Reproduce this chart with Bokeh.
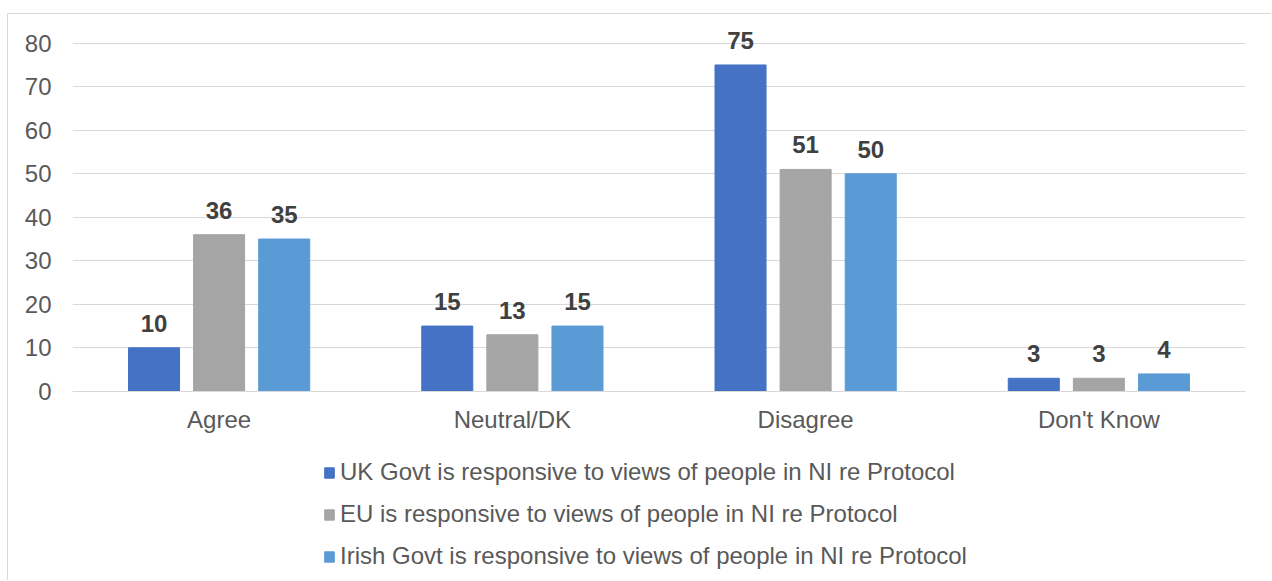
from bokeh.plotting import figure
from bokeh.models import ColumnDataSource, FactorRange, Range1d, LabelSet, Legend, LegendItem
from bokeh.core.properties import value
from bokeh.transform import dodge
from bokeh.embed import file_html
from bokeh.resources import INLINE

categories = ["Agree", "Neutral/DK", "Disagree", "Don't Know"]
uk_govt = [10, 15, 75, 3]
eu = [36, 13, 51, 3]
irish_govt = [35, 15, 50, 4]
series_names = [
    "UK Govt is responsive to views of people in NI re Protocol",
    "EU is responsive to views of people in NI re Protocol",
    "Irish Govt is responsive to views of people in NI re Protocol",
]
y_ticks = [0, 10, 20, 30, 40, 50, 60, 70, 80]

colors = ["#4472C4", "#A5A5A5", "#5B9BD5"]
FONT = "Liberation Sans"
TXT = "#595959"

src = ColumnDataSource(dict(cat=categories, uk=uk_govt, eu=eu, ir=irish_govt,
                            uk_t=[str(v) for v in uk_govt],
                            eu_t=[str(v) for v in eu],
                            ir_t=[str(v) for v in irish_govt]))

p = figure(width=1264, height=567, x_range=FactorRange(factors=categories, range_padding=0),
           y_range=Range1d(-43.7, 86.6), output_backend="svg", toolbar_location=None,
           min_border_left=64, min_border_right=27, min_border_top=0, min_border_bottom=0,
           margin=(13, 0, 0, 7),
           styles={"border-top": "1px solid #D9D9D9", "border-left": "1px solid #D9D9D9"})
p.outline_line_color = None
p.background_fill_color = "white"
p.border_fill_color = "white"

offs = [-0.222, 0.0, 0.222]
keys = ["uk", "eu", "ir"]
renderers = []
for k, o, c in zip(keys, offs, colors):
    r = p.vbar(x=dodge("cat", o, range=p.x_range), top=k, width=0.174, source=src,
               fill_color=c, line_color=c)
    renderers.append(r)
    lab = LabelSet(x=dodge("cat", o, range=p.x_range), y=k, text=k + "_t", source=src,
                   text_align="center", text_baseline="bottom", y_offset=16,
                   text_font=value(FONT), text_font_size="24px", text_font_style="bold",
                   text_color="#404040")
    p.add_layout(lab)

p.xgrid.grid_line_color = None
p.ygrid.grid_line_color = "#D9D9D9"
p.ygrid.grid_line_width = 1
p.yaxis.ticker = y_ticks
p.yaxis.axis_line_color = None
p.yaxis.major_tick_line_color = None
p.yaxis.minor_tick_line_color = None
p.yaxis.major_label_standoff = 15
p.yaxis.major_label_text_font = FONT
p.yaxis.major_label_text_font_size = "24px"
p.yaxis.major_label_text_color = TXT

p.xaxis.fixed_location = 0
p.xaxis.axis_line_color = "#D9D9D9"
p.xaxis.major_tick_line_color = None
p.xaxis.minor_tick_line_color = None
p.xaxis.major_label_standoff = 9
p.xaxis.major_label_text_font = FONT
p.xaxis.major_label_text_font_size = "24px"
p.xaxis.major_label_text_color = TXT

legend = Legend(items=[LegendItem(label=n, renderers=[r]) for n, r in zip(series_names, renderers)],
                location=(251, 11), orientation="vertical",
                glyph_width=12, glyph_height=13, label_standoff=5,
                label_text_font=FONT, label_text_font_size="24px", label_text_color=TXT,
                spacing=14, padding=0, margin=0, border_line_color=None,
                background_fill_alpha=0, label_height=27)
p.add_layout(legend, "center")

open("out.html", "w").write(file_html(p, INLINE))
